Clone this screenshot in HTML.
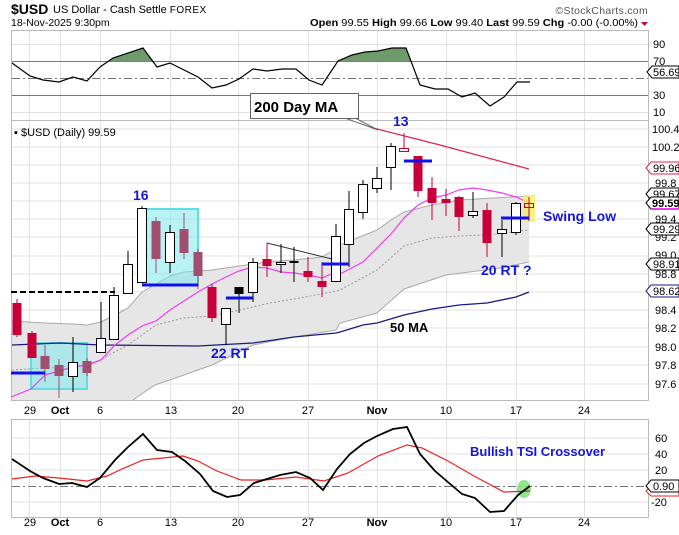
<!DOCTYPE html>
<html><head><meta charset="utf-8"><style>
body{margin:0;background:#fff;}
svg{display:block;font-family:"Liberation Sans",sans-serif;}
</style></head><body>
<svg width="679" height="535" viewBox="0 0 679 535" xmlns="http://www.w3.org/2000/svg">
<rect width="679" height="535" fill="#fff"/>
<text x="11" y="14" font-size="14" font-weight="bold" fill="#000">$USD</text>
<text x="53" y="13" font-size="11" fill="#000">US Dollar - Cash Settle <tspan font-size="10" letter-spacing="0.5">FOREX</tspan></text>
<text x="11" y="26" font-size="10.5" fill="#000">18-Nov-2025 9:30pm</text>
<text x="648" y="14" font-size="10.5" fill="#555" text-anchor="end" letter-spacing="0.3">©StockCharts.com</text>
<text x="310" y="26" font-size="10.5" fill="#000" textLength="328" lengthAdjust="spacingAndGlyphs"><tspan font-weight="bold">Open</tspan> 99.55  <tspan font-weight="bold">High</tspan> 99.66  <tspan font-weight="bold">Low</tspan> 99.40  <tspan font-weight="bold">Last</tspan> 99.59  <tspan font-weight="bold">Chg</tspan> -0.00 (-0.00%)</text>
<path d="M641 22 L648 22 L644.5 26 Z" fill="#c03"/>

<rect x="11.5" y="30.5" width="637" height="90" fill="#fff" stroke="#bbb"/>
<g stroke="#e2e2e2" stroke-width="1">
<line x1="12" y1="44.5" x2="648" y2="44.5"/><line x1="12" y1="112.5" x2="648" y2="112.5"/>
<line x1="29.5" y1="31" x2="29.5" y2="120"/><line x1="60.5" y1="31" x2="60.5" y2="120"/><line x1="100.5" y1="31" x2="100.5" y2="120"/><line x1="170.5" y1="31" x2="170.5" y2="120"/><line x1="238.5" y1="31" x2="238.5" y2="120"/><line x1="308.5" y1="31" x2="308.5" y2="120"/><line x1="377.5" y1="31" x2="377.5" y2="120"/><line x1="446.5" y1="31" x2="446.5" y2="120"/><line x1="516.5" y1="31" x2="516.5" y2="120"/><line x1="584.5" y1="31" x2="584.5" y2="120"/>
</g>
<line x1="12" y1="61.5" x2="648" y2="61.5" stroke="#777"/>
<line x1="12" y1="95.5" x2="648" y2="95.5" stroke="#777"/>
<line x1="12" y1="78.5" x2="648" y2="78.5" stroke="#777" stroke-dasharray="8,3,2,3"/>
<clipPath id="above70"><rect x="0" y="30" width="679" height="31.5"/></clipPath>
<g clip-path="url(#above70)">
<polygon fill="#6f9a6c" points="100,67 113,58 143,48 157,67 157,61.5 100,61.5"/>
<polygon fill="#6f9a6c" points="322,85 338,61 352,55 365,52 378,51 392,48 406,48 420,85 420,61.5 322,61.5"/>
</g>
<polyline fill="none" stroke="#000" stroke-width="1.2" points="12,63 30,76 43,80 59,82 73,77 87,81 100,67 113,58 143,48 157,67 170,63 198,77 212,88 226,85 239,79 253,69 267,71 282,69 296,69 309,80 322,85 338,61 352,55 365,52 378,51 392,48 406,48 420,85 435,89 448,89 462,97 475,93 490,106 504,97 517,82 530,82"/>
<g font-size="11" fill="#000">
<text x="653" y="48">90</text><text x="653" y="65">70</text><text x="653" y="99">30</text><text x="653" y="116">10</text>
</g>
<path d="M647 72 L652 66 L679 66 L679 78 L652 78 Z" fill="#fff" stroke="#000"/>
<text x="653" y="76" font-size="11">56.69</text>

<rect x="11.5" y="120.5" width="637" height="280" fill="#fff" stroke="#bbb"/>
<g stroke="#e2e2e2">
<line x1="12" y1="129" x2="648" y2="129"/><line x1="12" y1="147" x2="648" y2="147"/><line x1="12" y1="165" x2="648" y2="165"/><line x1="12" y1="183" x2="648" y2="183"/><line x1="12" y1="201" x2="648" y2="201"/><line x1="12" y1="219" x2="648" y2="219"/><line x1="12" y1="237" x2="648" y2="237"/><line x1="12" y1="256" x2="648" y2="256"/><line x1="12" y1="274" x2="648" y2="274"/><line x1="12" y1="292" x2="648" y2="292"/><line x1="12" y1="310" x2="648" y2="310"/><line x1="12" y1="328" x2="648" y2="328"/><line x1="12" y1="347" x2="648" y2="347"/><line x1="12" y1="365" x2="648" y2="365"/><line x1="12" y1="384" x2="648" y2="384"/>
<line x1="29.5" y1="121" x2="29.5" y2="400"/><line x1="60.5" y1="121" x2="60.5" y2="400"/><line x1="100.5" y1="121" x2="100.5" y2="400"/><line x1="170.5" y1="121" x2="170.5" y2="400"/><line x1="238.5" y1="121" x2="238.5" y2="400"/><line x1="308.5" y1="121" x2="308.5" y2="400"/><line x1="377.5" y1="121" x2="377.5" y2="400"/><line x1="446.5" y1="121" x2="446.5" y2="400"/><line x1="516.5" y1="121" x2="516.5" y2="400"/><line x1="584.5" y1="121" x2="584.5" y2="400"/>
</g>
<polygon fill="#e6e6e6" points="12,321 45,323 73,324 87,325 101,322 115,315 128,308 142,292 156,284 170,276 184,272 198,271 212,270 253,264 267,262 294,260 322,257 336,249 340,245 377,230 391,220 404,212 432,205 459,200 529,196 529,262 501,268 446,275 404,289 377,313 340,323 336,330 294,337 253,345 212,365 184,375 155,385 133,400 12,400"/>
<polyline fill="none" stroke="#aaa" points="12,321 45,323 73,324 87,325 101,322 115,315 128,308 142,292 156,284 170,276 184,272 198,271 212,270 253,264 267,262 294,260 322,257 336,249 340,245 377,230 391,220 404,212 432,205 459,200 529,196"/>
<polyline fill="none" stroke="#aaa" points="133,400 155,385 184,375 212,365 253,345 294,337 336,330 340,323 377,313 404,289 446,275 501,268 529,262"/>
<polyline fill="none" stroke="#999" stroke-dasharray="2,2" points="12,370 90,365 128,345 156,325 184,318 212,316 240,310 270,303 300,298 336,291 340,290 377,270 404,246 432,238 459,236 487,235 529,230"/>
<rect x="31" y="343" width="56" height="46" fill="#7fe8ec" fill-opacity="0.55" stroke="#5fdde2" stroke-width="2"/>
<rect x="143" y="209" width="55" height="76" fill="#7fe8ec" fill-opacity="0.55" stroke="#5fdde2" stroke-width="2"/>
<polyline fill="none" stroke="#1a1a80" stroke-width="1.3" points="12,345 60,343 101,345 198,346 253,343 294,337 336,333 340,332 363,325 377,323 404,315 432,309 459,305 487,303 516,297 529,292"/>
<polyline fill="none" stroke="#dd2050" stroke-width="1.2" points="373,128 440,145 529,169"/>
<polyline fill="none" stroke="#f03cf0" stroke-width="1.2" points="11,397 31,389 45,375 73,367 87,365 101,360 115,345 128,335 142,326 156,321 170,310 184,301 198,292 212,284 226,277 239,271 253,267 267,268 281,272 294,273 308,275 322,278 336,272 340,274 363,262 377,248 391,234 404,218 418,205 432,198 446,195 459,190 473,188 487,190 502,193 516,197 529,203"/>
<line x1="11" y1="292" x2="115" y2="292" stroke="#000" stroke-width="2" stroke-dasharray="6,3"/>
<line x1="267" y1="243" x2="336" y2="260" stroke="#333" stroke-width="1"/>
<rect x="523" y="195" width="12" height="27" fill="#f4f060" fill-opacity="0.8"/>
<g stroke-width="1">
<g stroke="#c03">
<line x1="17" y1="299" x2="17" y2="337"/><line x1="32" y1="331" x2="32" y2="358"/>
<line x1="212" y1="284" x2="212" y2="322"/><line x1="267" y1="243" x2="267" y2="277"/><line x1="308" y1="257" x2="308" y2="282"/><line x1="322" y1="262" x2="322" y2="297"/>
<line x1="404" y1="133" x2="404" y2="151"/><line x1="418" y1="156" x2="418" y2="197"/><line x1="432" y1="177" x2="432" y2="220"/><line x1="446" y1="189" x2="446" y2="216"/><line x1="459" y1="196" x2="459" y2="231"/><line x1="487" y1="203" x2="487" y2="257"/><line x1="529" y1="197" x2="529" y2="221"/>
</g>
<g stroke="#a05070">
<line x1="45" y1="345" x2="45" y2="382"/><line x1="59" y1="359" x2="59" y2="398"/><line x1="87" y1="358" x2="87" y2="376"/><line x1="156" y1="217" x2="156" y2="273"/><line x1="184" y1="213" x2="184" y2="259"/><line x1="198" y1="249" x2="198" y2="289"/>
</g>
<g stroke="#000">
<line x1="73" y1="337" x2="73" y2="392"/><line x1="101" y1="302" x2="101" y2="352"/><line x1="114" y1="287" x2="114" y2="339"/><line x1="128" y1="251" x2="128" y2="294"/><line x1="142" y1="206" x2="142" y2="282"/><line x1="170" y1="225" x2="170" y2="273"/><line x1="226" y1="308" x2="226" y2="345"/><line x1="239" y1="287" x2="239" y2="313"/><line x1="253" y1="258" x2="253" y2="302"/><line x1="281" y1="244" x2="281" y2="273"/><line x1="294" y1="247" x2="294" y2="282"/><line x1="336" y1="224" x2="336" y2="281"/><line x1="349" y1="191" x2="349" y2="267"/><line x1="363" y1="180" x2="363" y2="219"/><line x1="377" y1="167" x2="377" y2="193"/><line x1="391" y1="143" x2="391" y2="190"/><line x1="473" y1="192" x2="473" y2="218"/><line x1="502" y1="220" x2="502" y2="257"/><line x1="516" y1="202" x2="516" y2="235"/>
</g>
<g fill="#c8003a">
<rect x="12.5" y="303" width="9" height="32"/><rect x="27.5" y="333" width="9" height="25"/><rect x="207.5" y="287" width="9" height="31"/><rect x="262.5" y="259" width="9" height="7"/><rect x="303.5" y="271" width="9" height="6"/><rect x="317.5" y="281" width="9" height="6"/>
<rect x="413.5" y="156" width="9" height="35"/><rect x="427.5" y="188" width="9" height="15"/><rect x="441.5" y="199" width="9" height="4"/><rect x="454.5" y="197" width="9" height="20"/><rect x="482.5" y="210" width="9" height="33"/>
</g>
<g fill="#a04f6e">
<rect x="40.5" y="356" width="9" height="13"/><rect x="54.5" y="365" width="9" height="11"/><rect x="82.5" y="361" width="9" height="12"/><rect x="151.5" y="221" width="9" height="38"/><rect x="179.5" y="229" width="9" height="24"/><rect x="193.5" y="252" width="9" height="24"/>
</g>
<g fill="#fff" stroke="#000">
<rect x="68.5" y="362.5" width="9" height="14"/><rect x="96.5" y="338.5" width="9" height="14"/><rect x="109.5" y="295.5" width="9" height="44"/><rect x="123.5" y="264.5" width="9" height="29"/><rect x="137.5" y="208.5" width="9" height="74"/><rect x="165.5" y="232.5" width="9" height="30"/><rect x="221.5" y="308.5" width="9" height="16"/><rect x="248.5" y="262.5" width="9" height="30"/><rect x="276.5" y="262.5" width="9" height="2"/><rect x="331.5" y="236.5" width="9" height="45"/><rect x="344.5" y="209.5" width="9" height="35"/><rect x="358.5" y="184.5" width="9" height="28"/><rect x="372.5" y="178.5" width="9" height="10"/><rect x="386.5" y="146.5" width="9" height="21"/><rect x="468.5" y="211.5" width="9" height="4"/><rect x="497.5" y="229.5" width="9" height="4"/><rect x="511.5" y="203.5" width="9" height="29"/>
</g>
<rect x="234.5" y="287" width="9" height="7" fill="#000"/>
<rect x="289.5" y="261" width="9" height="2" fill="#000"/>
<rect x="399.5" y="148.5" width="9" height="3" fill="#fff" stroke="#c03"/>
<rect x="524.5" y="203.5" width="9" height="4" fill="none" stroke="#c03"/>
</g>
<g stroke="#1010ee" stroke-width="3">
<line x1="11" y1="373" x2="45" y2="373"/><line x1="142" y1="285" x2="198" y2="285"/><line x1="226" y1="298" x2="253" y2="298"/><line x1="322" y1="264" x2="349" y2="264"/><line x1="404" y1="161" x2="432" y2="161"/><line x1="501" y1="218" x2="529" y2="218"/>
</g>
<text x="14" y="136" font-size="11" fill="#000">▪ $USD (Daily) 99.59</text>
<path d="M345 118 L378 130 L355 118 Z" fill="#fff" stroke="#666"/>
<rect x="250.5" y="93.5" width="108" height="25" fill="#fff" stroke="#666"/>
<text x="254" y="112" font-size="15" font-weight="bold" fill="#000">200 Day MA</text>
<g font-weight="bold" fill="#1515e0">
<text x="393" y="126" font-size="14">13</text>
<text x="133" y="200" font-size="14">16</text>
<text x="211" y="358" font-size="14">22 RT</text>
<text x="481" y="275" font-size="14">20 RT ?</text>
<text x="543" y="221" font-size="14">Swing Low</text>
</g>
<text x="390" y="332" font-size="13" font-weight="bold" fill="#000">50 MA</text>
<g font-size="11" fill="#000">
<text x="652" y="133">100.4</text><text x="652" y="151">100.2</text><text x="655" y="187">99.8</text><text x="655" y="223">99.4</text><text x="655" y="241">99.2</text><text x="655" y="259">99.0</text><text x="655" y="278">98.8</text><text x="655" y="314">98.4</text><text x="655" y="332">98.2</text><text x="655" y="351">98.0</text><text x="655" y="369">97.8</text><text x="655" y="388">97.6</text>
</g>
<g font-size="11">
<path d="M646 168 L651 162 L679 162 L679 174 L651 174 Z" fill="#fff" stroke="#dd2050"/><text x="653" y="172">99.96</text>
<path d="M646 194 L651 188 L679 188 L679 200 L651 200 Z" fill="#fff" stroke="#000"/><text x="653" y="198">99.67</text>
<path d="M646 203 L651 197 L679 197 L679 209 L651 209 Z" fill="#fff" stroke="#000"/><line x1="651" y1="209" x2="679" y2="209" stroke="#f03cf0" stroke-width="2"/><text x="652" y="207" font-weight="bold">99.59</text>
<path d="M646 229 L651 223 L679 223 L679 235 L651 235 Z" fill="#fff" stroke="#000"/><text x="653" y="233">99.29</text>
<path d="M646 264 L651 258 L679 258 L679 270 L651 270 Z" fill="#fff" stroke="#000"/><text x="653" y="268">98.91</text>
<path d="M646 291 L651 285 L679 285 L679 297 L651 297 Z" fill="#fff" stroke="#1a1a80"/><text x="653" y="295">98.62</text>
</g>
<g font-size="11" fill="#000" text-anchor="middle">
<text x="30" y="414">29</text><text x="60" y="414" font-weight="bold">Oct</text><text x="100" y="414">6</text><text x="171" y="414">13</text><text x="238" y="414">20</text><text x="308" y="414">27</text><text x="377" y="414" font-weight="bold">Nov</text><text x="446" y="414">10</text><text x="516" y="414">17</text><text x="584" y="414">24</text>
<text x="30" y="526">29</text><text x="60" y="526" font-weight="bold">Oct</text><text x="100" y="526">6</text><text x="171" y="526">13</text><text x="238" y="526">20</text><text x="308" y="526">27</text><text x="377" y="526" font-weight="bold">Nov</text><text x="446" y="526">10</text><text x="516" y="526">17</text><text x="584" y="526">24</text>
</g>

<rect x="11.5" y="419.5" width="637" height="98" fill="#fff" stroke="#bbb"/>
<g stroke="#e2e2e2">
<line x1="12" y1="438" x2="648" y2="438"/><line x1="12" y1="454" x2="648" y2="454"/><line x1="12" y1="470" x2="648" y2="470"/><line x1="12" y1="502" x2="648" y2="502"/>
<line x1="29.5" y1="420" x2="29.5" y2="517"/><line x1="60.5" y1="420" x2="60.5" y2="517"/><line x1="100.5" y1="420" x2="100.5" y2="517"/><line x1="170.5" y1="420" x2="170.5" y2="517"/><line x1="238.5" y1="420" x2="238.5" y2="517"/><line x1="308.5" y1="420" x2="308.5" y2="517"/><line x1="377.5" y1="420" x2="377.5" y2="517"/><line x1="446.5" y1="420" x2="446.5" y2="517"/><line x1="516.5" y1="420" x2="516.5" y2="517"/><line x1="584.5" y1="420" x2="584.5" y2="517"/>
</g>
<line x1="12" y1="486.5" x2="648" y2="486.5" stroke="#777" stroke-dasharray="8,3,2,3"/>
<ellipse cx="524" cy="489" rx="7" ry="9" fill="#7ee07a" fill-opacity="0.85"/>
<polyline fill="none" stroke="#f02020" stroke-width="1.2" points="12,479 35,476 59,478 87,481 107,476 122,469 143,460 183,456 198,461 217,471 241,480 265,480 296,477 324,481 348,473 378,456 407,445 422,448 448,461 474,476 504,492 530,491"/>
<polyline fill="none" stroke="#000" stroke-width="1.8" points="12,459 15,461 30,471 43,478 59,484 72,483 87,487 100,478 115,460 128,447 143,434 157,450 172,452 185,461 200,474 213,491 227,497 240,495 254,483 267,479 280,475 296,472 310,478 323,490 337,469 350,454 364,443 377,436 393,429 407,427 420,454 435,471 449,483 462,494 475,498 490,512 504,511 518,495 530,486"/>
<text x="470" y="456" font-size="13" font-weight="bold" fill="#1515e0">Bullish TSI Crossover</text>
<g font-size="11" fill="#000">
<text x="655" y="442">60</text><text x="655" y="458">40</text><text x="655" y="474">20</text><text x="651" y="506">-20</text>
</g>
<path d="M646 491 L651 486 L679 486 L679 496 L651 496 Z" fill="#fff" stroke="#f02020"/>
<path d="M646 486 L651 480 L679 480 L679 492 L651 492 Z" fill="#fff" stroke="#000"/>
<text x="653" y="490" font-size="11">0.90</text>
</svg>
</body></html>
